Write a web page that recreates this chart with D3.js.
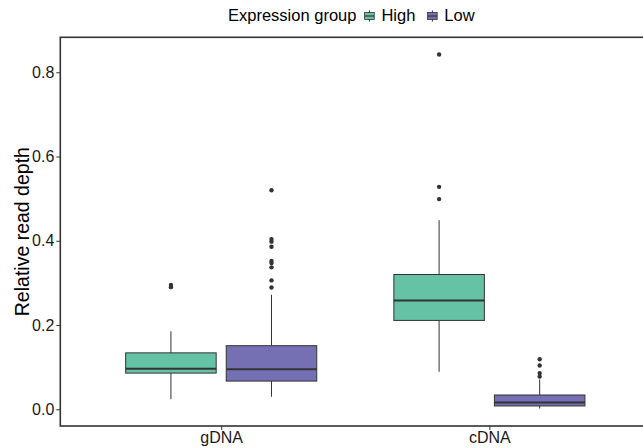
<!DOCTYPE html>
<html>
<head>
<meta charset="utf-8">
<script src="https://cdn.jsdelivr.net/npm/d3@7"></script>
<style>
  html, body { margin: 0; padding: 0; background: #fff; }
  svg { display: block; }
  text { font-family: "Liberation Sans", Arial, Helvetica, sans-serif; }
</style>
</head>
<body>
<svg id="chart" width="643" height="448"></svg>
<script>
// ---- data ----
const categories = ["gDNA", "cDNA"];
const groups = ["High", "Low"];
const groupColors = ["#66C2A5", "#7570B3"];
const yTicks = [0.0, 0.2, 0.4, 0.6, 0.8];

// High expression group: per category
const highWhiskerLow  = [0.024, 0.089];
const highQ1          = [0.086, 0.211];
const highMedian      = [0.096, 0.258];
const highQ3          = [0.134, 0.320];
const highWhiskerHigh = [0.185, 0.449];
const highOutliers    = [[0.295, 0.290], [0.842, 0.528, 0.499]];

// Low expression group: per category
const lowWhiskerLow  = [0.030, 0.002];
const lowQ1          = [0.067, 0.008];
const lowMedian      = [0.095, 0.016];
const lowQ3          = [0.151, 0.034];
const lowWhiskerHigh = [0.272, 0.071];
const lowOutliers    = [[0.520, 0.404, 0.398, 0.386, 0.352, 0.347, 0.337, 0.306, 0.289],
                        [0.119, 0.104, 0.086, 0.078]];

// ---- build box table ----
const series = [
  {group: "High", wl: highWhiskerLow, q1: highQ1, med: highMedian, q3: highQ3, wh: highWhiskerHigh, out: highOutliers},
  {group: "Low",  wl: lowWhiskerLow,  q1: lowQ1,  med: lowMedian,  q3: lowQ3,  wh: lowWhiskerHigh,  out: lowOutliers}
];
const boxes = [];
series.forEach((s, gi) => {
  categories.forEach((c, ci) => {
    boxes.push({cat: c, group: s.group, gi,
      wl: s.wl[ci], q1: s.q1[ci], med: s.med[ci], q3: s.q3[ci], wh: s.wh[ci], out: s.out[ci]});
  });
});

// ---- layout ----
const svg = d3.select("#chart");
const panel = {left: 60.3, right: 650.3, top: 37.3, bottom: 426};
const ink = "#333333";

const x = d3.scalePoint().domain(categories).range([panel.left, panel.right]).padding(0.6);
const step = x.step();
const dodge = d3.scaleBand().domain(groups).range([-0.375 * step, 0.375 * step]);
const boxW = dodge.bandwidth() * 0.9;

const y = d3.scaleLinear().domain([-0.0396, 0.883]).range([panel.bottom, panel.top]);
const color = d3.scaleOrdinal().domain(groups).range(groupColors);

// ---- boxes ----
const g = svg.append("g");
const bx = g.selectAll("g.box").data(boxes).join("g").attr("class", "box")
  .attr("transform", d => `translate(${x(d.cat) + dodge(d.group) + dodge.bandwidth() / 2},0)`);

bx.append("line").attr("x1", 0).attr("x2", 0)
  .attr("y1", d => y(d.q3)).attr("y2", d => y(d.wh))
  .attr("stroke", ink).attr("stroke-width", 1);
bx.append("line").attr("x1", 0).attr("x2", 0)
  .attr("y1", d => y(d.q1)).attr("y2", d => y(d.wl))
  .attr("stroke", ink).attr("stroke-width", 1);
bx.append("rect")
  .attr("x", -boxW / 2).attr("width", boxW)
  .attr("y", d => y(d.q3)).attr("height", d => y(d.q1) - y(d.q3))
  .attr("fill", d => color(d.group)).attr("stroke", ink).attr("stroke-width", 1);
bx.append("line").attr("x1", -boxW / 2).attr("x2", boxW / 2)
  .attr("y1", d => y(d.med)).attr("y2", d => y(d.med))
  .attr("stroke", ink).attr("stroke-width", 2);
bx.selectAll("circle").data(d => d.out).join("circle")
  .attr("cx", 0).attr("cy", v => y(v)).attr("r", 2.2).attr("fill", ink);

// ---- panel border ----
svg.append("rect")
  .attr("x", panel.left).attr("y", panel.top)
  .attr("width", panel.right - panel.left).attr("height", panel.bottom - panel.top)
  .attr("fill", "none").attr("stroke", ink).attr("stroke-width", 1.6);

// ---- axes ----
const yAxis = svg.append("g").attr("transform", `translate(${panel.left},0)`)
  .call(d3.axisLeft(y).tickValues(yTicks).tickFormat(d3.format(".1f")).tickSize(4).tickPadding(2));
yAxis.select(".domain").remove();
yAxis.selectAll(".tick line").attr("stroke", ink);
yAxis.selectAll(".tick text").attr("fill", "#1a1a1a").style("font-size", "16px");

const xAxis = svg.append("g").attr("transform", `translate(0,${panel.bottom})`)
  .call(d3.axisBottom(x).tickSize(4).tickPadding(1.5));
xAxis.select(".domain").remove();
xAxis.selectAll(".tick line").attr("stroke", ink);
xAxis.selectAll(".tick text").attr("fill", "#1a1a1a").style("font-size", "16px");

// ---- y title ----
svg.append("text")
  .attr("transform", `translate(28.5,${(panel.top + panel.bottom) / 2}) rotate(-90)`)
  .attr("text-anchor", "middle").style("font-size", "19.5px").attr("fill", "#000")
  .text("Relative read depth");

// ---- legend ----
const leg = svg.append("g").attr("transform", "translate(228,21)");
const title = leg.append("text").attr("x", 0).attr("y", 0).style("font-size", "16.5px")
  .attr("fill", "#000").text("Expression group");
let cx = title.node().getComputedTextLength() + 7;
const keyW = 12, keyH = 14;
groups.forEach(gr => {
  const k = leg.append("g").attr("transform", `translate(${cx},${-12})`);
  k.append("line").attr("x1", keyW / 2).attr("x2", keyW / 2).attr("y1", keyH * 0.1).attr("y2", keyH * 0.9)
    .attr("stroke", ink).attr("stroke-width", 1);
  k.append("rect").attr("x", keyW * 0.1).attr("width", keyW * 0.8)
    .attr("y", keyH * 0.25).attr("height", keyH * 0.5)
    .attr("fill", color(gr)).attr("stroke", ink).attr("stroke-width", 0.8);
  k.append("line").attr("x1", keyW * 0.1).attr("x2", keyW * 0.9).attr("y1", keyH * 0.5).attr("y2", keyH * 0.5)
    .attr("stroke", ink).attr("stroke-width", 1.2);
  cx += keyW + 6;
  const t = leg.append("text").attr("x", cx).attr("y", 0).style("font-size", "16.5px").attr("fill", "#000").text(gr);
  cx += t.node().getComputedTextLength() + 11;
});
</script>
</body>
</html>
